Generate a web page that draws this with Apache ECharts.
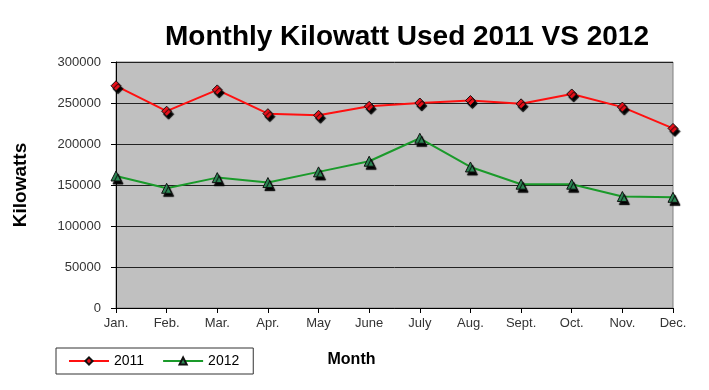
<!DOCTYPE html>
<html><head><meta charset="utf-8">
<script src="https://cdn.jsdelivr.net/npm/echarts@6/dist/echarts.min.js"></script>
<style>html,body{margin:0;padding:0;background:#fff}#c{width:709px;height:390px}</style>
</head><body><div id="c"></div>
<script>
const months = ['Jan.','Feb.','Mar.','Apr.','May','June','July','Aug.','Sept.','Oct.','Nov.','Dec.'];
const kw2011 = [271000,240000,266000,237000,235000,246000,250000,253000,249000,261000,245000,219000];
const kw2012 = [161000,146000,159000,153000,166000,179000,207000,172000,151000,151000,136000,135000];
const yTicks = [0,50000,100000,150000,200000,250000,300000];

const chart = echarts.init(document.getElementById('c'));
const shadow = {shadowColor:'#000', shadowBlur:1, shadowOffsetX:2, shadowOffsetY:3};
chart.setOption({
  backgroundColor:'#fff',
  animation:false,
  title:{text:'Monthly Kilowatt Used 2011 VS 2012', left:402, top:18, textAlign:'center',
    textStyle:{fontFamily:'Liberation Sans', fontWeight:'bold', fontSize:28, color:'#000'}},
  legend:{left:56, top:348, itemWidth:40, itemHeight:9, itemGap:18,
    padding:[6,14,6,12], borderColor:'#333', borderWidth:1,
    textStyle:{fontFamily:'Liberation Sans', fontSize:14, color:'#000'},
    data:['2011','2012']},
  grid:{left:116, right:36, top:62, bottom:82, show:true, backgroundColor:'#c0c0c0', borderColor:'#808080', borderWidth:1},
  xAxis:{type:'category', data:months, boundaryGap:false,
    name:'Month', nameLocation:'middle', nameGap:44,
    nameTextStyle:{fontFamily:'Liberation Sans', fontWeight:'bold', fontSize:16, color:'#000', padding:[0,86,0,0]},
    axisLine:{lineStyle:{color:'#000', width:1}},
    axisTick:{show:true, length:5, lineStyle:{color:'#000'}},
    axisLabel:{fontFamily:'Liberation Sans', fontSize:13, color:'#333', margin:9}},
  yAxis:{type:'value', min:yTicks[0], max:yTicks[yTicks.length-1], interval:50000,
    name:'Kilowatts', nameLocation:'middle', nameGap:86, nameRotate:90,
    nameTextStyle:{fontFamily:'Liberation Sans', fontWeight:'bold', fontSize:19, color:'#000'},
    axisLine:{show:true, lineStyle:{color:'#000', width:1}},
    axisTick:{show:true, length:5, lineStyle:{color:'#000'}},
    axisLabel:{fontFamily:'Liberation Sans', fontSize:13, color:'#333', margin:15,
      formatter:v=>String(v)},
    splitLine:{lineStyle:{color:'#222', width:1}}},
  series:[
    {name:'2011', type:'line', data:kw2011, symbol:'diamond', symbolSize:10,
      lineStyle:{color:'#ff1010', width:2},
      itemStyle:Object.assign({color:'#e8101a', borderColor:'#111', borderWidth:1}, shadow)},
    {name:'2012', type:'line', data:kw2012, symbol:'triangle', symbolSize:10,
      lineStyle:{color:'#1a9a2a', width:2},
      itemStyle:Object.assign({color:'#2e8b57', borderColor:'#111', borderWidth:1}, shadow)}
  ]
});
</script></body></html>
